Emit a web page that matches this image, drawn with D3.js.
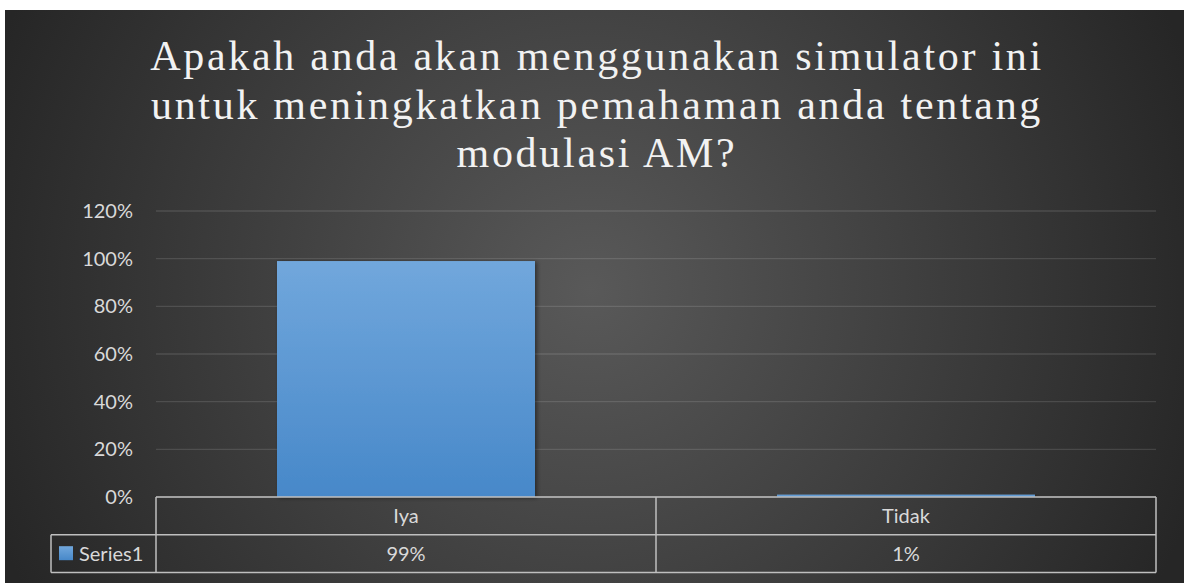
<!DOCTYPE html>
<html>
<head>
<meta charset="utf-8">
<script src="https://cdn.jsdelivr.net/npm/d3@7"></script>
<style>
  body { margin: 0; background: #fff; }
  svg { display: block; }
</style>
</head>
<body>
<div id="chart-container"></div>
<script>
// data
var titleLines = ["Apakah anda akan menggunakan simulator ini",
                  "untuk meningkatkan pemahaman anda tentang",
                  "modulasi AM?"];
var categories = ["Iya", "Tidak"];
var values = [0.99, 0.01];
var seriesName = "Series1";
var yTicks = [0, 0.2, 0.4, 0.6, 0.8, 1.0, 1.2];

var W = 1184, H = 583;
var plot = {left: 156, right: 1156, top: 211, bottom: 497};
var rowH = 37.7;

var svg = d3.select("#chart-container")
    .append("svg")
    .attr("width", W)
    .attr("height", H);

var defs = svg.append("defs");

var bg = defs.append("radialGradient")
    .attr("id", "bg")
    .attr("gradientUnits", "userSpaceOnUse")
    .attr("cx", 590).attr("cy", 290).attr("r", 640);
bg.append("stop").attr("offset", "0%").attr("stop-color", "#595959");
bg.append("stop").attr("offset", "100%").attr("stop-color", "#262626");

var barGrad = defs.append("linearGradient")
    .attr("id", "barGrad")
    .attr("x1", 0).attr("y1", 0).attr("x2", 0).attr("y2", 1);
barGrad.append("stop").attr("offset", "0%").attr("stop-color", "#71a7dc");
barGrad.append("stop").attr("offset", "100%").attr("stop-color", "#4788c9");

var shadow = defs.append("filter").attr("id", "shadow")
    .attr("x", "-10%").attr("y", "-10%").attr("width", "130%").attr("height", "130%");
shadow.append("feDropShadow")
    .attr("dx", 2).attr("dy", 1).attr("stdDeviation", 2)
    .attr("flood-color", "#000").attr("flood-opacity", 0.45);

// chart area
svg.append("rect")
    .attr("x", 5).attr("y", 10)
    .attr("width", W - 5).attr("height", H - 10)
    .attr("fill", "url(#bg)");

// title
svg.append("text")
    .attr("text-anchor", "middle")
    .style("font-family", "'Liberation Serif', 'DejaVu Serif', serif")
    .style("font-size", "42px")
    .style("letter-spacing", "2.7px")
    .attr("fill", "#f2f2f2")
    .selectAll("tspan")
    .data(titleLines)
    .enter().append("tspan")
    .attr("x", 597)
    .attr("y", function(d, i) { return 70 + i * 48.5; })
    .text(function(d) { return d; });

var x = d3.scaleBand().domain(categories).range([plot.left, plot.right]);
var y = d3.scaleLinear().domain([0, 1.2]).range([plot.bottom, plot.top]);

// gridlines
svg.append("g")
    .selectAll("line")
    .data(yTicks)
    .enter().append("line")
    .attr("x1", plot.left).attr("x2", plot.right)
    .attr("y1", function(d) { return y(d); })
    .attr("y2", function(d) { return y(d); })
    .attr("stroke", "#ffffff").attr("stroke-opacity", 0.12)
    .attr("stroke-width", 1.3);

// y axis
var yAxis = d3.axisLeft(y).tickValues(yTicks).tickFormat(d3.format(".0%"))
    .tickSize(0).tickPadding(23);
var ya = svg.append("g")
    .attr("transform", "translate(" + plot.left + ",0)")
    .call(yAxis);
ya.select(".domain").remove();
ya.selectAll("text")
    .style("font-family", "Lato, 'Open Sans', sans-serif")
    .style("font-size", "20px")
    .attr("fill", "#d9d9d9");

// bars
var barW = x.bandwidth() * 0.516;
svg.append("g")
    .selectAll("rect")
    .data(values)
    .enter().append("rect")
    .attr("x", function(d, i) { return x(categories[i]) + (x.bandwidth() - barW) / 2; })
    .attr("width", barW)
    .attr("y", function(d) { return y(d); })
    .attr("height", function(d) { return plot.bottom - y(d); })
    .attr("fill", "url(#barGrad)")
    .attr("filter", "url(#shadow)");

// data table
var tbl = svg.append("g")
    .attr("stroke", "#bfbfbf").attr("stroke-width", 1.5).attr("fill", "none");
var rowY = [plot.bottom, plot.bottom + rowH, plot.bottom + 2 * rowH];
tbl.append("line").attr("x1", plot.left).attr("x2", plot.right)
    .attr("y1", rowY[0]).attr("y2", rowY[0]);
tbl.append("line").attr("x1", 51).attr("x2", plot.right)
    .attr("y1", rowY[1]).attr("y2", rowY[1]);
tbl.append("line").attr("x1", 51).attr("x2", plot.right)
    .attr("y1", rowY[2]).attr("y2", rowY[2]);
tbl.append("line").attr("x1", 51).attr("x2", 51)
    .attr("y1", rowY[1]).attr("y2", rowY[2]);
var vx = categories.map(function(c) { return x(c); }).concat([plot.right]);
tbl.selectAll("line.v")
    .data(vx)
    .enter().append("line")
    .attr("class", "v")
    .attr("x1", function(d) { return d; }).attr("x2", function(d) { return d; })
    .attr("y1", rowY[0]).attr("y2", rowY[2]);

var cellText = svg.append("g")
    .style("font-family", "Lato, 'Open Sans', sans-serif")
    .style("font-size", "20px")
    .attr("fill", "#d9d9d9")
    .attr("text-anchor", "middle");
cellText.selectAll("text.cat")
    .data(categories)
    .enter().append("text")
    .attr("class", "cat")
    .attr("x", function(d) { return x(d) + x.bandwidth() / 2; })
    .attr("y", rowY[0] + 26)
    .text(function(d) { return d; });
cellText.selectAll("text.val")
    .data(values)
    .enter().append("text")
    .attr("class", "val")
    .attr("x", function(d, i) { return x(categories[i]) + x.bandwidth() / 2; })
    .attr("y", rowY[1] + 26)
    .text(function(d) { return d3.format(".0%")(d); });

// legend key
svg.append("rect")
    .attr("x", 59).attr("y", rowY[1] + 11.5)
    .attr("width", 14).attr("height", 14)
    .attr("fill", "url(#barGrad)");
svg.append("text")
    .attr("x", 79).attr("y", rowY[1] + 26)
    .style("font-family", "Lato, 'Open Sans', sans-serif")
    .style("font-size", "20px")
    .attr("fill", "#d9d9d9")
    .text(seriesName);
</script>
</body>
</html>
